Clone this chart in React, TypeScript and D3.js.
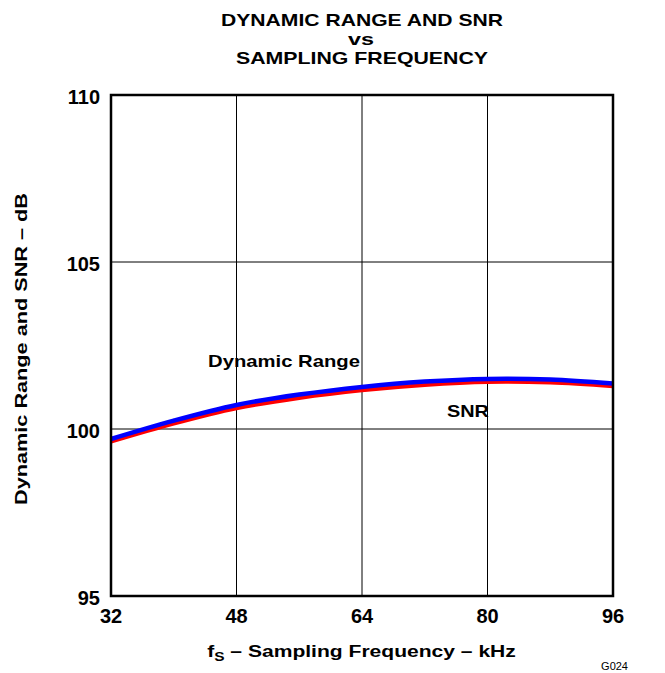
import React from "react";
import * as d3 from "d3";

const freqs = [32, 40, 48, 56, 64, 72, 80, 88, 96];
const dynamicRange = [99.7, 100.25, 100.72, 101.03, 101.26, 101.42, 101.5, 101.48, 101.36];
const snr = [99.62, 100.16, 100.62, 100.93, 101.16, 101.32, 101.41, 101.39, 101.28];
const xTicks = [32, 48, 64, 80, 96];
const yTicks = [95, 100, 105, 110];

export default function App() {
  const W = 665, H = 673;
  const L = 111, R = 613, T = 95, B = 596;
  const x = d3.scaleLinear().domain([32, 96]).range([L, R]);
  const y = d3.scaleLinear().domain([95, 110]).range([B, T]);
  const line = d3
    .line<number>()
    .x((_, i) => x(freqs[i]))
    .y((d) => y(d))
    .curve(d3.curveCatmullRom);
  const font = "Arial, 'Liberation Sans', Helvetica, sans-serif";
  const adj = "spacingAndGlyphs";
  return (
    <svg width={W} height={H} style={{ position: "absolute", left: 0, top: 0 }} fontFamily={font}>
      <rect width={W} height={H} fill="#fff" />
      <g fontWeight="bold" fontSize={17} fill="#000" textAnchor="middle">
        <text x={362} y={26} textLength={282} lengthAdjust={adj}>DYNAMIC RANGE AND SNR</text>
        <text x={361} y={45} textLength={26} lengthAdjust={adj}>vs</text>
        <text x={362} y={64} textLength={252} lengthAdjust={adj}>SAMPLING FREQUENCY</text>
      </g>
      {xTicks.slice(1, -1).map((t) => (
        <line key={"gx" + t} x1={x(t)} x2={x(t)} y1={T} y2={B} stroke="#000" strokeWidth={1} />
      ))}
      {yTicks.slice(1, -1).map((t) => (
        <line key={"gy" + t} x1={L} x2={R} y1={y(t)} y2={y(t)} stroke="#000" strokeWidth={1} />
      ))}
      <path d={line(snr) || ""} fill="none" stroke="#ff0000" strokeWidth={4} />
      <path d={line(dynamicRange) || ""} fill="none" stroke="#0000ff" strokeWidth={4.5} />
      <rect x={L} y={T} width={R - L} height={B - T} fill="none" stroke="#000" strokeWidth={2.5} />
      {xTicks.map((t) => (
        <text key={"xt" + t} x={x(t)} y={B + 27} textAnchor="middle" fontWeight="bold" fontSize={20}>
          {t}
        </text>
      ))}
      {yTicks.map((t) => (
        <text key={"yt" + t} x={L - 11} y={y(t) + 8.5} textAnchor="end" fontWeight="bold" fontSize={20}>
          {t}
        </text>
      ))}
      <text x={284} y={367} textAnchor="middle" fontWeight="bold" fontSize={17} textLength={152} lengthAdjust={adj}>
        Dynamic Range
      </text>
      <text x={468} y={417} textAnchor="middle" fontWeight="bold" fontSize={17} textLength={42} lengthAdjust={adj}>
        SNR
      </text>
      <g transform="translate(361.5, 657) scale(1.24, 1)">
        <text x={0} y={0} textAnchor="middle" fontWeight="bold" fontSize={17}>
          f<tspan fontSize={12.5} dy={4}>S</tspan>
          <tspan dy={-4}> – Sampling Frequency – kHz</tspan>
        </text>
      </g>
      <text
        transform={`translate(27, 349) rotate(-90)`}
        textAnchor="middle"
        fontWeight="bold"
        fontSize={17}
        textLength={312}
        lengthAdjust={adj}
      >
        Dynamic Range and SNR – dB
      </text>
      <text x={628} y={670} textAnchor="end" fontSize={11}>G024</text>
    </svg>
  );
}
